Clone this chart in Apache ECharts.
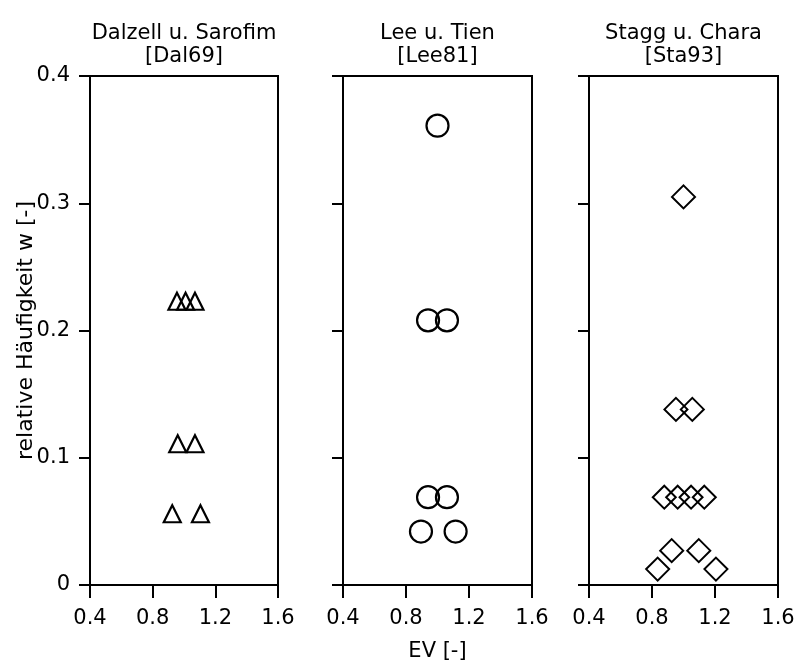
<!DOCTYPE html>
<html>
<head>
<meta charset="utf-8">
<script src="https://cdn.jsdelivr.net/npm/echarts@6/dist/echarts.min.js"></script>
<style>html,body{margin:0;padding:0;background:#fff}#c{width:795px;height:663px}</style>
</head>
<body>
<div id="c"></div>
<script>
// Panel titles
var panelTitles = ['Dalzell u. Sarofim\n[Dal69]', 'Lee u. Tien\n[Lee81]', 'Stagg u. Chara\n[Sta93]'];
// Axis settings (tick values)
var xTicks = [0.4, 0.8, 1.2, 1.6];
var yTicks = [0, 0.1, 0.2, 0.3, 0.4];
var xAxisTitle = 'EV [-]';
var yAxisTitle = 'relative Häufigkeit w [-]';

// Dalzell u. Sarofim [Dal69] – triangles
var dalEV = [0.955, 1.01, 1.07, 0.96, 1.07, 0.925, 1.105];
var dalW  = [0.223, 0.223, 0.223, 0.111, 0.111, 0.056, 0.056];

// Lee u. Tien [Lee81] – circles
var leeEV = [1.0, 0.94, 1.06, 0.94, 1.06, 0.895, 1.115];
var leeW  = [0.361, 0.208, 0.208, 0.069, 0.069, 0.042, 0.042];

// Stagg u. Chara [Sta93] – diamonds
var staEV = [1.0, 0.952, 1.056, 0.878, 0.963, 1.048, 1.132, 0.925, 1.097, 0.836, 1.206];
var staW  = [0.305, 0.138, 0.138, 0.069, 0.069, 0.069, 0.069, 0.027, 0.027, 0.0125, 0.0125];

function pairs(xs, ys) { return xs.map(function (x, i) { return [x, ys[i]]; }); }

var FONT = 'DejaVu Sans';
var gridsPos = [
  {left: 90, width: 188},
  {left: 343, width: 189},
  {left: 589, width: 189}
];
var TOP = 76, HEIGHT = 509;

var grids = [], xAxes = [], yAxes = [], titles = [];
gridsPos.forEach(function (g, i) {
  grids.push({left: g.left, width: g.width, top: TOP, height: HEIGHT, show: true,
    borderColor: '#000', borderWidth: 2, backgroundColor: 'transparent', containLabel: false, outerBoundsMode: 'none'});
  xAxes.push({
    type: 'value', gridIndex: i, min: xTicks[0], max: xTicks[xTicks.length - 1], interval: 0.4,
    axisLine: {show: true, onZero: false, lineStyle: {color: '#000', width: 2}},
    axisTick: {show: true, length: 13, lineStyle: {color: '#000', width: 2}},
    axisLabel: {show: true, margin: 23, color: '#000', fontFamily: FONT, fontSize: 21,
      formatter: function (v) { return (Math.round(v * 10) / 10).toFixed(1); }},
    splitLine: {show: false},
    name: i === 1 ? xAxisTitle : '', nameLocation: 'middle', nameGap: 56, nameMoveOverlap: false,
    nameTextStyle: {color: '#000', fontFamily: FONT, fontSize: 21}
  });
  yAxes.push({
    type: 'value', gridIndex: i, min: yTicks[0], max: yTicks[yTicks.length - 1], interval: 0.1,
    axisLine: {show: true, onZero: false, lineStyle: {color: '#000', width: 2}},
    axisTick: {show: true, length: 11, lineStyle: {color: '#000', width: 2}},
    axisLabel: {show: i === 0, margin: 20, color: '#000', fontFamily: FONT, fontSize: 21,
      formatter: function (v) { var r = Math.round(v * 10) / 10; return r === 0 ? '0' : r.toFixed(1); }},
    splitLine: {show: false},
    name: i === 0 ? yAxisTitle : '', nameLocation: 'middle', nameGap: 53, nameRotate: 90, nameMoveOverlap: false,
    nameTextStyle: {color: '#000', fontFamily: FONT, fontSize: 22}
  });
  titles.push({
    text: panelTitles[i], left: g.left + g.width / 2, top: 22, padding: 0, textAlign: 'center',
    textStyle: {color: '#000', fontFamily: FONT, fontSize: 21, fontWeight: 'normal', lineHeight: 23}
  });
});

var markerStyle = {color: 'rgba(0,0,0,0)', borderColor: '#000', borderWidth: 2.2, opacity: 1};
var series = [
  {type: 'scatter', xAxisIndex: 0, yAxisIndex: 0, symbol: 'triangle', symbolSize: [17, 17],
    itemStyle: markerStyle, data: pairs(dalEV, dalW)},
  {type: 'scatter', xAxisIndex: 1, yAxisIndex: 1, symbol: 'circle', symbolSize: 22,
    itemStyle: markerStyle, data: pairs(leeEV, leeW)},
  {type: 'scatter', xAxisIndex: 2, yAxisIndex: 2, symbol: 'diamond', symbolSize: 23,
    itemStyle: {color: 'rgba(0,0,0,0)', borderColor: '#000', borderWidth: 2, opacity: 1}, data: pairs(staEV, staW)}
];
series.forEach(function (s) { s.emphasis = {disabled: true}; s.silent = true; });

var chart = echarts.init(document.getElementById('c'), null, {renderer: 'canvas'});
chart.setOption({
  animation: false,
  backgroundColor: '#fff',
  title: titles,
  grid: grids,
  xAxis: xAxes,
  yAxis: yAxes,
  series: series
});
</script>
</body>
</html>
